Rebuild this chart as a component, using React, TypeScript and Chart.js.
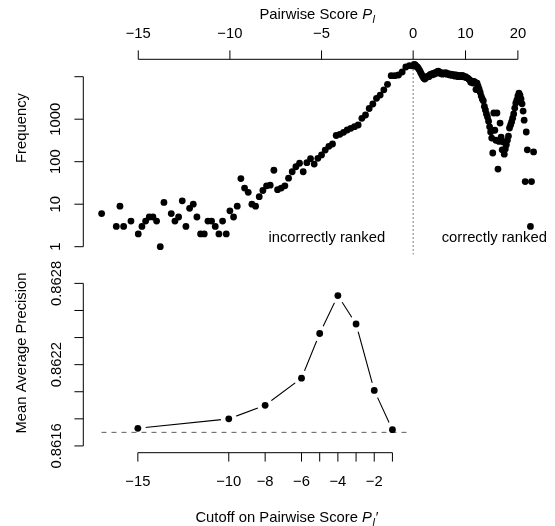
import React, { useEffect, useRef } from "react";
import { Chart, registerables } from "chart.js";

Chart.register(...registerables);

// ---------- data ----------
const BIN_WIDTH = 0.2;
const NEG_START = -17.0; // first bin of negative (incorrectly ranked) scores
const POS_START = 0.0; // first bin of positive (correctly ranked) scores

// frequency per bin, negative scores (-17.0 ... -0.2)
const NEG_FREQ: (number | null)[] = [
  6, null, null, null, 3, 9, 3, null, 4, null,
  2, 3, 4, 5, 5, 4, 1, 11, null, 6,
  4, 5, 12, 3, 8, 10, 5, 2, 2, 4,
  4, 3, 2, 4, 2, 7, 5, 9, 40, 24,
  19, 10, 9, 15, 21, 27, 28, 63, 22, 24,
  27, 41, 58, 76, 92, 58, 95, 118, 88, 120,
  144, 188, 230, 261, 413, 441, 492, 557, 611, 666,
  731, 1050, 1256, 1786, 2280, 3104, 3700, 4900, 6600, 10570,
  10570, 10970, 12900, 16900, 18140,
];

// frequency per bin, positive scores (0.0 ... 23.0)
const POS_FREQ: (number | null)[] = [
  17900, 19400, 18900, 17500, 17100, 15700, 14300, 12800, 11500, 10300,
  9300, 8800, 9300, 9800, 10300, 10000, 11000, 11500, 11000, 11900,
  11500, 12500, 12100, 13100, 13500, 12800, 11900, 12500, 11500, 12100,
  11900, 12500, 11500, 11900, 11200, 11000, 11500, 10700, 11200, 11000,
  10300, 11000, 10700, 10000, 10700, 10300, 10000, 10700, 10300, 9800,
  10000, 9500, 9300, 8800, 8400, 7400, 7800, 7100, 7800, 7400,
  5000, 7100, 6000, 5100, 4300, 3500, 3000, 2700, 2000, 1650,
  1330, 1120, 900, 660, 500, 360, 160, 1400, 550, 320,
  1400, 67, 300, 810, 380, 190, 290, 150, 200, 250,
  320, 400, 620, 730, 860, 1060, 1330, 1830, 2400, 2800,
  3500, 4100, 3700, 3000, 2300, 1550, 950, 34, 500, 190,
  null, null, 3, 34, null, 170,
];

const TOP_TICKS = [-15, -10, -5, 0, 10, 20];
const TOP_TICK_LABELS = ["\u221215", "\u221210", "\u22125", "0", "10", "20"];
const FREQ_TICKS = [1, 10, 100, 1000, 10000];
const FREQ_TICK_LABELS = ["1", "10", "100", "1000", ""];

const CUTOFFS = [-15, -10, -8, -6, -5, -4, -3, -2, -1];
const MAP_VALUES = [0.86173, 0.8618, 0.8619, 0.8621, 0.86243, 0.86271, 0.8625, 0.86201, 0.86172];
const CUTOFF_TICK_LABELS = ["\u221215", "\u221210", "\u22128", "\u22126", "", "\u22124", "", "\u22122", ""];
const MAP_TICKS = [0.8616, 0.8618, 0.862, 0.8622, 0.8624, 0.8626, 0.8628];
const MAP_TICK_LABELS = ["0.8616", "", "", "0.8622", "", "", "0.8628"];
const BASELINE_MAP = 0.8617;
const BASELINE_FROM = -17;
const BASELINE_TO = 0;

// positive side of the score axis is drawn compressed
const POS_COMPRESS = 2 / 7;
const toAxis = (p: number) => (p < 0 ? p : p * POS_COMPRESS);

// ---------- layout / style ----------
const W = 555;
const H = 526;
const TOP_H = 268;
const BOT_TOP = 250;
const BOT_H = H - BOT_TOP;
const X_MIN = -18;
const X_MAX = 7.5;
const F_MIN = 0.655;
const F_MAX = 25680;
const M_MIN = 0.86155;
const M_MAX = 0.862825;
const FS = 14.8;
const FAMILY = '"Liberation Sans", Arial, Helvetica, sans-serif';
const TICK = 8.9;

const font = (italic = false, size = FS) => `${italic ? "italic " : ""}${size}px ${FAMILY}`;

type Part = { t: string; it?: boolean; sub?: boolean };

function seg(ctx: CanvasRenderingContext2D, x1: number, y1: number, x2: number, y2: number) {
  ctx.beginPath();
  ctx.moveTo(x1, y1);
  ctx.lineTo(x2, y2);
  ctx.stroke();
}

function rich(ctx: CanvasRenderingContext2D, parts: Part[], cx: number, cy: number) {
  const sz = (p: Part) => (p.sub ? FS * 0.75 : FS);
  let total = 0;
  parts.forEach((p) => {
    ctx.font = font(!!p.it, sz(p));
    total += ctx.measureText(p.t).width;
  });
  let x = cx - total / 2;
  ctx.textAlign = "left";
  ctx.textBaseline = "middle";
  parts.forEach((p) => {
    ctx.font = font(!!p.it, sz(p));
    ctx.fillText(p.t, x, cy + (p.sub ? 4.5 : 0));
    x += ctx.measureText(p.t).width + (p.it && !p.sub ? 0.5 : 0);
  });
}

function vtext(ctx: CanvasRenderingContext2D, text: string, x: number, y: number) {
  ctx.save();
  ctx.translate(x, y);
  ctx.rotate(-Math.PI / 2);
  ctx.textAlign = "center";
  ctx.textBaseline = "middle";
  ctx.fillText(text, 0, 0);
  ctx.restore();
}

const TOP_TITLE: Part[] = [{ t: "Pairwise Score " }, { t: "P", it: true }, { t: "l", it: true, sub: true }];
const BOT_TITLE: Part[] = [
  { t: "Cutoff on Pairwise Score " },
  { t: "P", it: true },
  { t: "l", it: true, sub: true },
  { t: "\u2032", it: true },
];

const topAxes = {
  id: "topAxes",
  afterDraw(chart: any) {
    const { ctx, chartArea: a, scales } = chart;
    const x = scales.x;
    const y = scales.y;
    ctx.save();
    ctx.strokeStyle = "#000";
    ctx.fillStyle = "#000";
    ctx.lineWidth = 1;
    // top x axis
    const xs = TOP_TICKS.map((t) => x.getPixelForValue(toAxis(t)));
    seg(ctx, xs[0], a.top, xs[xs.length - 1], a.top);
    xs.forEach((px: number) => seg(ctx, px, a.top, px, a.top - TICK));
    ctx.font = font();
    ctx.textAlign = "center";
    ctx.textBaseline = "middle";
    TOP_TICK_LABELS.forEach((l, i) => ctx.fillText(l, xs[i], a.top - 25));
    rich(ctx, TOP_TITLE, (a.left + a.right) / 2, 15);
    // left y axis
    const ys = FREQ_TICKS.map((v) => y.getPixelForValue(v));
    seg(ctx, a.left, ys[0], a.left, ys[ys.length - 1]);
    ys.forEach((py: number) => seg(ctx, a.left, py, a.left - TICK, py));
    ctx.font = font();
    FREQ_TICK_LABELS.forEach((l, i) => {
      if (l) vtext(ctx, l, 56, ys[i]);
    });
    vtext(ctx, "Frequency", 22, 128);
    // region labels
    const x0 = x.getPixelForValue(0);
    ctx.font = font();
    ctx.textBaseline = "alphabetic";
    ctx.textAlign = "right";
    ctx.fillText("incorrectly ranked", x0 - 28, 242.3);
    ctx.textAlign = "left";
    ctx.fillText("correctly ranked", x0 + 28.5, 242.3);
    ctx.restore();
  },
};

const botAxes = {
  id: "botAxes",
  afterDraw(chart: any) {
    const { ctx, chartArea: a, scales } = chart;
    const x = scales.x;
    const y = scales.y;
    ctx.save();
    ctx.strokeStyle = "#000";
    ctx.fillStyle = "#000";
    ctx.lineWidth = 1;
    const xs = CUTOFFS.map((t) => x.getPixelForValue(t));
    seg(ctx, xs[0], a.bottom, xs[xs.length - 1], a.bottom);
    xs.forEach((px: number) => seg(ctx, px, a.bottom, px, a.bottom + TICK));
    ctx.font = font();
    ctx.textAlign = "center";
    ctx.textBaseline = "middle";
    CUTOFF_TICK_LABELS.forEach((l, i) => {
      if (l) ctx.fillText(l, xs[i], a.bottom + 29);
    });
    rich(ctx, BOT_TITLE, 286.3, a.bottom + 65.3);
    const ys = MAP_TICKS.map((v) => y.getPixelForValue(v));
    seg(ctx, a.left, ys[0], a.left, ys[ys.length - 1]);
    ys.forEach((py: number) => seg(ctx, a.left, py, a.left - TICK, py));
    ctx.font = font();
    MAP_TICK_LABELS.forEach((l, i) => {
      if (l) vtext(ctx, l, 57, ys[i]);
    });
    vtext(ctx, "Mean Average Precision", 22, 353 - BOT_TOP);
    ctx.restore();
  },
};

function buildFreqPoints() {
  const pts: { x: number; y: number }[] = [];
  NEG_FREQ.forEach((f, i) => {
    if (f != null) pts.push({ x: toAxis(NEG_START + i * BIN_WIDTH), y: f });
  });
  POS_FREQ.forEach((f, i) => {
    if (f != null) pts.push({ x: toAxis(POS_START + i * BIN_WIDTH), y: f });
  });
  return pts;
}

export default function App() {
  const topRef = useRef<HTMLCanvasElement>(null);
  const botRef = useRef<HTMLCanvasElement>(null);

  useEffect(() => {
    const freqPts = buildFreqPoints();
    const top = new Chart(topRef.current as HTMLCanvasElement, {
      type: "scatter",
      data: {
        datasets: [
          {
            data: freqPts,
            pointRadius: 3.4,
            pointBackgroundColor: "#000",
            pointBorderWidth: 0,
            order: 0,
          } as any,
          {
            type: "line",
            data: [
              { x: 0, y: F_MIN },
              { x: 0, y: F_MAX },
            ],
            borderColor: "#000",
            borderWidth: 1,
            borderDash: [1, 3],
            pointRadius: 0,
            order: 1,
          } as any,
        ],
      },
      options: {
        responsive: false,
        animation: false,
        events: [],
        layout: { padding: { left: 83.3, right: W - 550.6, top: 59.3, bottom: TOP_H - 254.5 } },
        scales: {
          x: { type: "linear", min: X_MIN, max: X_MAX, bounds: "data", display: false },
          y: { type: "logarithmic", min: F_MIN, max: F_MAX, bounds: "data", display: false },
        },
        plugins: { legend: { display: false }, tooltip: { enabled: false } },
      } as any,
      plugins: [topAxes],
    });

    const mapPts = CUTOFFS.map((c, i) => ({ x: c, y: MAP_VALUES[i] }));
    const bot = new Chart(botRef.current as HTMLCanvasElement, {
      type: "scatter",
      data: {
        datasets: [
          {
            data: mapPts,
            pointRadius: 3.4,
            pointBackgroundColor: "#000",
            pointBorderWidth: 0,
            order: 0,
          } as any,
          {
            type: "line",
            data: [
              { x: BASELINE_FROM, y: BASELINE_MAP },
              { x: BASELINE_TO, y: BASELINE_MAP },
            ],
            borderColor: "#6b6b6b",
            borderWidth: 1.1,
            borderDash: [5, 5],
            pointRadius: 0,
            order: 1,
          } as any,
          {
            type: "line",
            data: mapPts,
            borderColor: "#000",
            borderWidth: 1.1,
            pointRadius: 8,
            pointBackgroundColor: "#fff",
            pointBorderColor: "#fff",
            pointBorderWidth: 0,
            tension: 0,
            order: 2,
          } as any,
        ],
      },
      options: {
        responsive: false,
        animation: false,
        events: [],
        layout: { padding: { left: 83.3, right: W - 550.6, top: 280 - BOT_TOP, bottom: H - 452.7 } },
        scales: {
          x: { type: "linear", min: X_MIN, max: X_MAX, bounds: "data", display: false },
          y: { type: "linear", min: M_MIN, max: M_MAX, bounds: "data", display: false },
        },
        plugins: { legend: { display: false }, tooltip: { enabled: false } },
      } as any,
      plugins: [botAxes],
    });

    return () => {
      top.destroy();
      bot.destroy();
    };
  }, []);

  return (
    <div style={{ position: "absolute", left: 0, top: 0, width: W, height: H, background: "#fff" }}>
      <canvas
        ref={topRef}
        width={W}
        height={TOP_H}
        style={{ position: "absolute", left: 0, top: 0, width: W, height: TOP_H }}
      />
      <canvas
        ref={botRef}
        width={W}
        height={BOT_H}
        style={{ position: "absolute", left: 0, top: BOT_TOP, width: W, height: BOT_H }}
      />
    </div>
  );
}
